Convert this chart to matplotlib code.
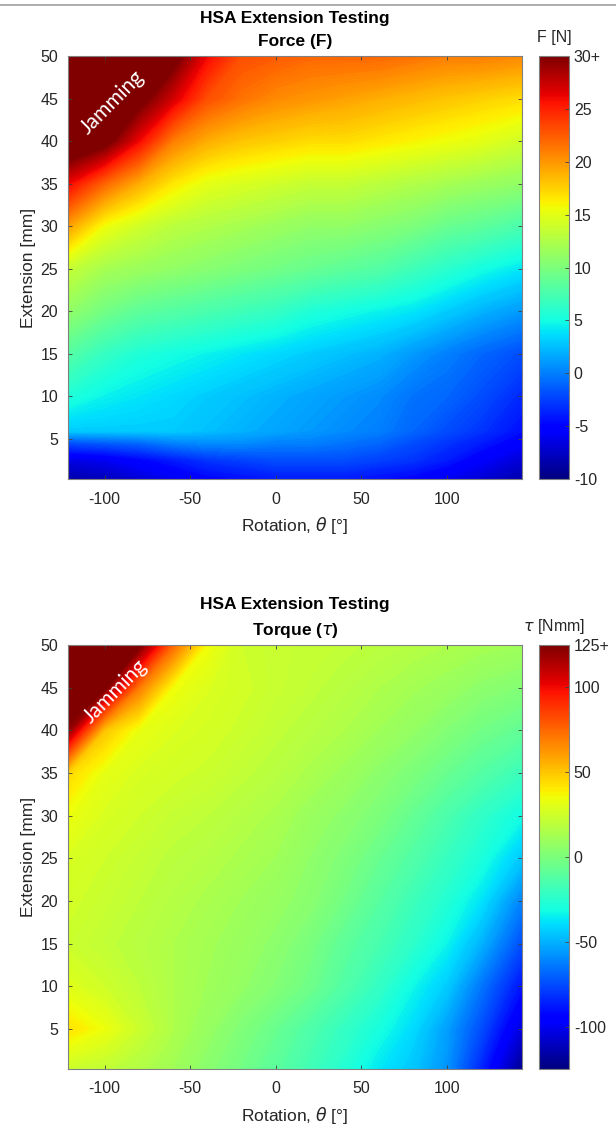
import numpy as np
import matplotlib.pyplot as plt
from matplotlib.colors import Normalize
from matplotlib.cm import ScalarMappable
from matplotlib.lines import Line2D

plt.rcParams['font.family'] = ['Liberation Sans', 'DejaVu Sans']
plt.rcParams['mathtext.fontset'] = 'dejavusans'
plt.rcParams['axes.unicode_minus'] = False

# grid of the measurements (rotation in deg, extension in mm)
rotation = [-121, -100, -80, -60, -40, -20, 0, 20, 40, 60, 80, 100, 120, 144]
extension_f = [0.3, 2.5, 4.5, 6, 10, 15, 20, 25, 30, 35, 40, 45, 50]
extension_t = [0.3, 2.5, 5, 10, 15, 20, 25, 30, 35, 40, 45, 50]

# force [N], one row per extension value (bottom -> top)
force = [
    [-8.5, -8, -7, -6, -5, -4.5, -4, -4, -4, -4.5, -5, -6, -7, -8.5],
    [-6.5, -6, -5, -4, -3, -2.5, -2, -2, -2, -2.5, -3, -4, -5.5, -7],
    [-2, -1.5, -1, 0, 0.5, 0.5, 0, 0, -0.5, -1, -2, -3, -4, -5.5],
    [3, 3, 3, 3, 2.5, 2, 1.5, 1, 0.5, 0, -1, -2, -3, -4.5],
    [5.5, 4.5, 4, 3.5, 3, 2.5, 2, 1.5, 1, 0.5, -0.5, -1, -2, -3.5],
    [8, 6.5, 5.5, 5, 4.5, 4, 3.5, 3, 2.5, 2, 1, 0, -1, -2],
    [11, 9.5, 8.5, 8, 7.5, 7, 6.5, 5.5, 5, 4.5, 4, 3, 2, 1],
    [13.5, 12, 11.5, 11, 10.5, 10, 9.5, 9, 8.5, 8, 7, 6, 5, 4],
    [19.5, 15.5, 14, 13, 12.5, 12, 11.5, 11, 11, 10.5, 10, 9, 8.5, 7.5],
    [26, 22, 19, 16.5, 15, 14.5, 14, 13.5, 13.5, 13, 12.5, 12, 11.5, 11],
    [33, 31, 26, 21, 19, 18, 17.5, 17, 17, 16.5, 16, 15.5, 15, 14],
    [33, 33, 31, 27, 23, 21.5, 20.5, 20, 19.5, 19, 18.5, 18, 17.5, 17],
    [33, 33, 33, 31, 26, 23, 22.5, 22, 22, 22, 21.5, 21, 21, 20.5],
]

# torque [Nmm], one row per extension value (bottom -> top)
torque = [
    [24, 21, 16, 11, 4, -3, -10, -18, -27, -37, -45, -58, -85, -122],
    [32, 27, 20, 13, 6, -1, -8, -16, -24, -34, -43, -56, -80, -114],
    [42, 34, 24, 15, 8, 1, -6, -14, -22, -30, -40, -55, -75, -105],
    [30, 25, 20, 15, 11, 7, 2, -4, -13, -22, -33, -44, -65, -90],
    [24, 21, 18, 15, 12, 9, 5, -1, -9, -16, -24, -34, -50, -75],
    [26, 23, 20, 17, 14, 11, 8, 4, -3, -11, -19, -27, -38, -62],
    [28, 25, 22, 19, 17, 14, 11, 6, 1, -6, -13, -21, -29, -45],
    [34, 28, 25, 22, 20, 17, 14, 9, 5, 0, -7, -15, -23, -32],
    [45, 32, 28, 26, 24, 21, 18, 14, 10, 5, 0, -6, -12, -20],
    [120, 50, 33, 29, 27, 24, 21, 18, 15, 11, 7, 2, -3, -8],
    [140, 127, 70, 35, 29, 26, 23, 21, 18, 15, 12, 9, 5, 2],
    [140, 140, 128, 75, 35, 25, 23, 22, 21, 19, 17, 15, 13, 11],
]

force_ticks = [-10, -5, 0, 5, 10, 15, 20, 25, 30]
force_labels = ['-10', '-5', '0', '5', '10', '15', '20', '25', '30+']
torque_ticks = [-100, -50, 0, 50, 100, 125]
torque_labels = ['-100', '-50', '0', '50', '100', '125+']

fig = plt.figure(figsize=(6.16, 11.3), dpi=100)

fig.add_artist(Line2D([0, 1], [1 - 4.5 / 1130, 1 - 4.5 / 1130], color='#a0a0a0', lw=1.2))

panels = [
    (extension_f, force, -10, 30, force_ticks, force_labels,
     'HSA Extension Testing\nForce (F)', 'F [N]',
     [0.1104, 0.5761, 0.737, 0.3743], [0.875, 0.5761, 0.0487, 0.3743], (-95.7, 44.6)),
    (extension_t, torque, -125, 125, torque_ticks, torque_labels,
     'HSA Extension Testing\nTorque ($\\tau$)', '$\\tau$ [Nmm]',
     [0.1104, 0.054, 0.737, 0.3752], [0.875, 0.054, 0.0487, 0.3752], (-94, 44.6)),
]

for ext, vals, vmin, vmax, cticks, clabels, title, clabel, apos, cpos, jam in panels:
    ax = fig.add_axes(apos)
    levels = np.linspace(vmin, vmax, 201)
    ax.contourf(rotation, ext, np.array(vals), levels=levels, cmap='jet',
                extend='both', antialiased=False)
    ax.set_xlim(-121.4, 143.8)
    ax.set_ylim(0.3, 50)
    ax.set_xticks([-100, -50, 0, 50, 100])
    ax.set_yticks(range(5, 51, 5))
    ax.tick_params(direction='in', top=True, right=True, length=3, width=0.6,
                   labelsize=11.5, colors='#404040', labelcolor='#262626')
    ax.tick_params(axis='x', pad=9)
    ax.tick_params(axis='y', pad=7)
    for s in ax.spines.values():
        s.set_color('#808080')
        s.set_linewidth(0.8)
    ax.set_title(title, fontsize=12.5, fontweight='bold', pad=7.5, linespacing=1.6)
    ax.set_xlabel('Rotation, $\\theta$ [°]', fontsize=12.5, color='#262626', labelpad=6)
    ax.set_ylabel('Extension [mm]', fontsize=12.5, color='#262626', labelpad=3)
    ax.text(jam[0], jam[1], 'Jamming', rotation=45, color='white', fontsize=15,
            family=['Lato', 'DejaVu Sans'], ha='center', va='center')

    cax = fig.add_axes(cpos)
    cb = fig.colorbar(ScalarMappable(Normalize(vmin, vmax), cmap='jet'), cax=cax)
    cb.set_ticks(cticks)
    cb.set_ticklabels(clabels)
    cax.tick_params(direction='in', length=3, width=0.6, labelsize=11.5,
                    colors='#404040', labelcolor='#262626')
    cb.outline.set_edgecolor('#808080')
    cb.outline.set_linewidth(0.8)
    cax.set_title(clabel, fontsize=11.5, color='#262626', pad=10)

fig.savefig('out.png', dpi=100)
